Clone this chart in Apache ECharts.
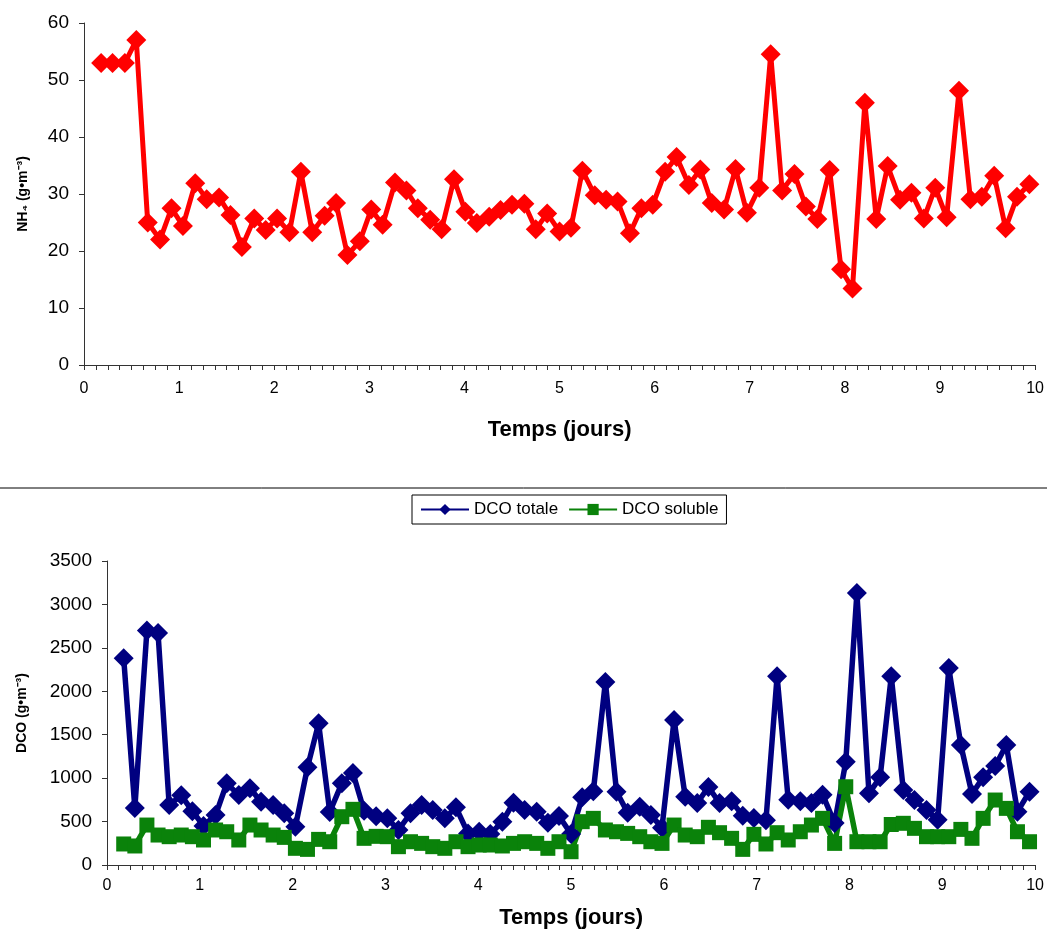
<!DOCTYPE html>
<html>
<head>
<meta charset="utf-8">
<script src="https://cdn.jsdelivr.net/npm/echarts@6/dist/echarts.min.js"></script>
<style>
html,body{margin:0;padding:0;background:#fff;}
#c{width:1047px;height:941px;}
</style>
</head>
<body>
<div id="c"></div>
<script>
// Time (days) of each sample
var times = [0.18,0.30,0.43,0.55,0.67,0.80,0.92,1.04,1.17,1.29,1.42,1.54,1.66,1.79,1.91,2.03,2.16,2.28,2.40,2.53,
  2.65,2.77,2.90,3.02,3.14,3.27,3.39,3.51,3.64,3.76,3.89,4.01,4.13,4.26,4.38,4.50,4.63,4.75,4.87,5.00,
  5.12,5.24,5.37,5.49,5.61,5.74,5.86,5.98,6.11,6.23,6.36,6.48,6.60,6.73,6.85,6.97,7.10,7.22,7.34,7.47,
  7.59,7.71,7.84,7.96,8.08,8.21,8.33,8.45,8.58,8.70,8.83,8.95,9.07,9.20,9.32,9.44,9.57,9.69,9.81,9.94];

// NH4 (g·m-3)
var nh4 = [53,53,53,57,25,22,27.5,24.4,31.9,29.1,29.4,26.3,20.7,25.7,23.7,25.7,23.3,33.9,23.3,26.2,
  28.4,19.3,21.7,27.3,24.6,32,30.6,27.5,25.5,23.8,32.6,26.9,24.9,26,27.2,28.1,28.3,23.8,26.6,23.4,
  24.1,34.1,29.8,29,28.7,23.1,27.5,28.1,33.9,36.5,31.6,34.3,28.4,27.3,34.4,26.7,31.1,54.5,30.6,33.5,
  27.8,25.6,34.2,16.8,13.4,46,25.6,34.9,29,30.2,25.7,31.1,25.9,48.1,29.1,29.5,33.2,24,29.5,31.7];

// DCO totale (g·m-3)
var dcoTotale = [2380,655,2700,2670,690,802,620,450,575,940,806,883,729,690,595,441,1124,1631,610,940,
  1060,625,560,537,403,595,690,633,537,664,364,383,357,499,717,633,614,487,564,357,
  779,848,2108,844,602,670,575,430,1670,786,714,898,714,733,568,541,514,2173,752,733,
  714,810,483,1189,3131,825,1009,2173,863,748,633,520,2269,1381,817,1009,1139,1381,614,844];

// DCO soluble (g·m-3)
var dcoSoluble = [242,219,460,345,326,345,326,288,403,383,288,460,403,345,318,192,180,295,268,556,
  641,307,330,326,211,268,249,211,192,268,211,230,230,219,249,268,249,192,268,153,
  499,537,403,383,364,326,268,249,460,345,326,434,372,307,180,353,242,372,288,383,
  460,537,249,901,268,268,268,466,480,422,326,326,326,410,307,537,748,652,383,268];

var xTicks = [0,1,2,3,4,5,6,7,8,9,10];

function pairs(vals){ return times.map(function(t,i){ return [t, vals[i]]; }); }

var FONT = 'Arial, "Liberation Sans", Helvetica, sans-serif';
var axisCol = '#333';
function plain(v){ return String(v); }

function xAxis(gridIndex){
  return {
    type:'value', gridIndex:gridIndex, min:xTicks[0], max:xTicks[xTicks.length-1], interval:1,
    name:'Temps (jours)', nameLocation:'middle', nameGap: gridIndex===0 ? 54 : 42,
    nameTextStyle:{fontFamily:FONT, fontWeight:'bold', fontSize:22, color:'#000'},
    axisLine:{show:true, lineStyle:{color:axisCol, width:1}},
    axisTick:{show:true, length:5, lineStyle:{color:axisCol}},
    minorTick:{show:true, splitNumber:8, length:5, lineStyle:{color:axisCol}},
    splitLine:{show:false}, minorSplitLine:{show:false},
    axisLabel:{fontFamily:FONT, fontSize:16, color:'#000', margin: gridIndex===0 ? 16 : 13, formatter:plain}
  };
}

var option = {
  animation:false,
  backgroundColor:'#fff',
  grid:[
    {left:84, right:5, top:23, height:342},
    {left:107, right:5, top:561, height:304}
  ],
  legend:{
    left:412, top:495, width:315,
    data:['DCO totale','DCO soluble'],
    borderColor:'#000', borderWidth:1, padding:[6,8,6,8],
    itemWidth:48, itemHeight:14, itemGap:10,
    textStyle:{fontFamily:FONT, fontSize:17, color:'#000'}
  },
  xAxis:[xAxis(0), xAxis(1)],
  yAxis:[
    {type:'value', gridIndex:0, min:0, max:60, interval:10,
     name:'NH\u2084 (g\u2022m\u207B\u00B3)', nameLocation:'middle', nameGap:54,
     nameTextStyle:{fontFamily:FONT, fontWeight:'bold', fontSize:14, color:'#000'},
     axisLine:{show:true, lineStyle:{color:axisCol}},
     axisTick:{show:true, length:5, lineStyle:{color:axisCol}},
     splitLine:{show:false},
     axisLabel:{fontFamily:FONT, fontSize:19, color:'#000', margin:15, formatter:plain}},
    {type:'value', gridIndex:1, min:0, max:3500, interval:500,
     name:'DCO (g\u2022m\u207B\u00B3)', nameLocation:'middle', nameGap:78,
     nameTextStyle:{fontFamily:FONT, fontWeight:'bold', fontSize:14, color:'#000'},
     axisLine:{show:true, lineStyle:{color:axisCol}},
     axisTick:{show:true, length:5, lineStyle:{color:axisCol}},
     splitLine:{show:false},
     axisLabel:{fontFamily:FONT, fontSize:19, color:'#000', margin:15, formatter:plain}}
  ],
  graphic:[
    {type:'line', shape:{x1:0, y1:488, x2:1047, y2:488}, style:{stroke:'#000', lineWidth:1}}
  ],
  series:[
    {name:'NH4', type:'line', xAxisIndex:0, yAxisIndex:0, data:pairs(nh4),
     symbol:'diamond', symbolSize:20, showAllSymbol:true,
     lineStyle:{color:'#ff0000', width:5}, itemStyle:{color:'#ff0000'}},
    {name:'DCO totale', type:'line', xAxisIndex:1, yAxisIndex:1, data:pairs(dcoTotale),
     symbol:'diamond', symbolSize:20, showAllSymbol:true,
     lineStyle:{color:'#000080', width:5.5}, itemStyle:{color:'#000080'}},
    {name:'DCO soluble', type:'line', xAxisIndex:1, yAxisIndex:1, data:pairs(dcoSoluble),
     symbol:'rect', symbolSize:15, showAllSymbol:true,
     lineStyle:{color:'#0a820a', width:5.5}, itemStyle:{color:'#0a820a'}}
  ]
};

var chart = echarts.init(document.getElementById('c'), null, {renderer:'canvas'});
chart.setOption(option);
</script>
</body>
</html>
